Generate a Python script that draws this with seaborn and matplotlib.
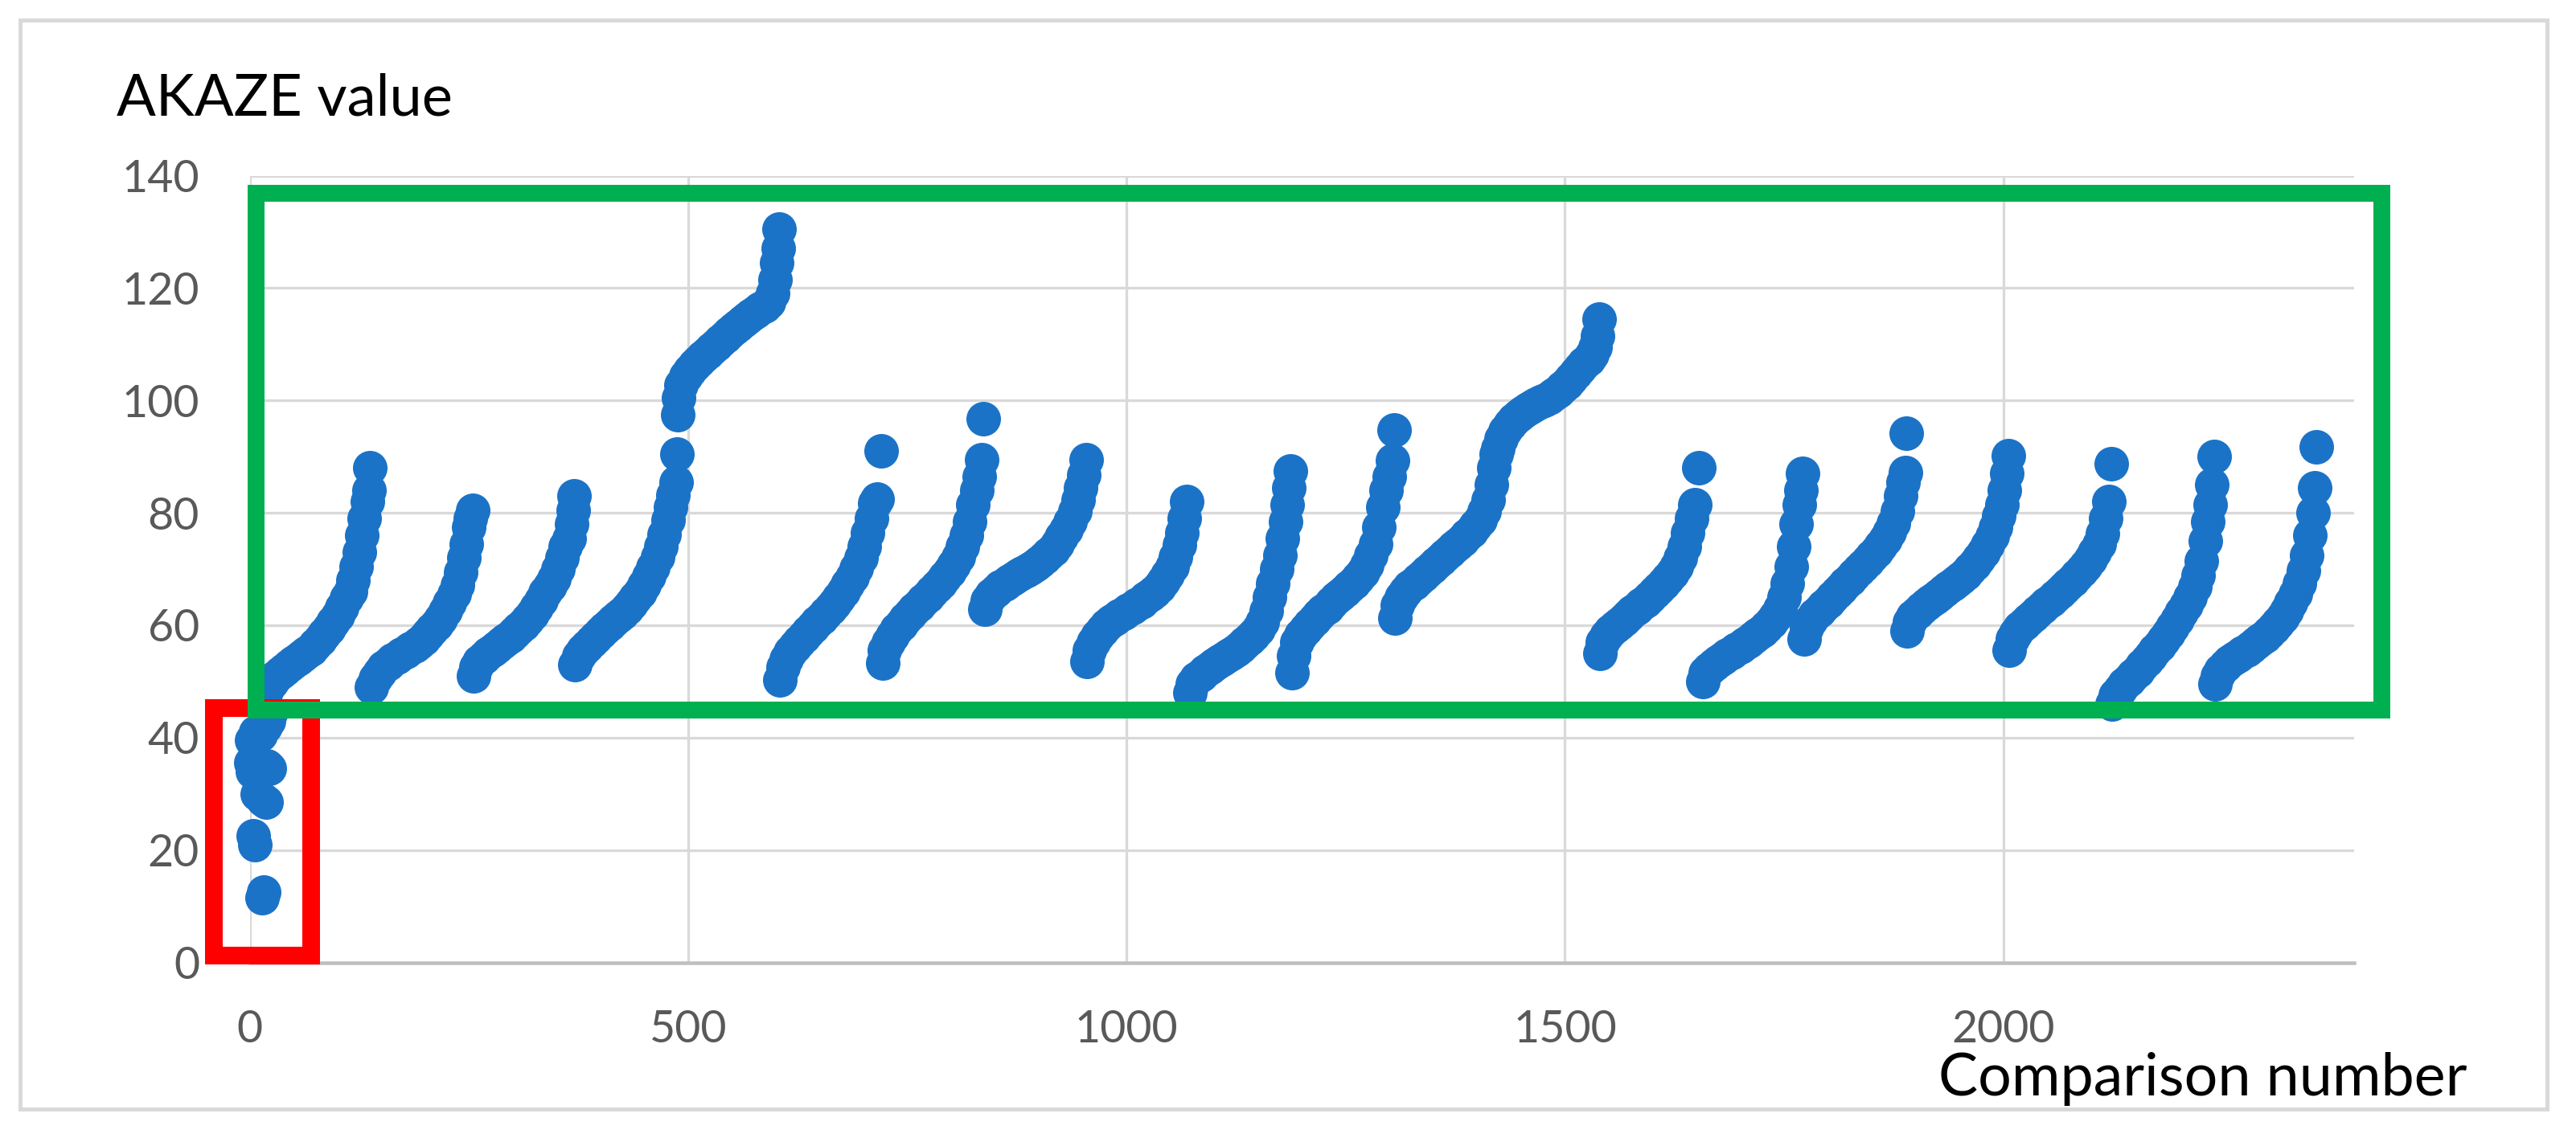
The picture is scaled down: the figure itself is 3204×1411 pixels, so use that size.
import numpy as np
import pandas as pd
import matplotlib
matplotlib.use("Agg")
import matplotlib.pyplot as plt
import matplotlib.patches as mpatches
import seaborn as sns

# ---------------- data (comparison number, AKAZE value) ----------------
low_x = [16, 14, 4, 6, 9, 15, 19, 1, 3, 20, 22, 2, 7, 12, 18, 21, 24]
low_y = [12.5, 11.5, 22.5, 21, 30, 29, 28.5, 35.5, 34, 35, 34.5, 39.5, 41, 40.5, 42, 43, 44.5]

seg01_x = [20, 25, 30, 35, 40, 45, 50, 55, 60, 65, 70, 75, 80, 85, 90, 95, 100, 105, 110, 115, 118, 121, 125, 128, 131, 134, 136, 137]
seg01_y = [48.5, 49.8, 50.8, 51.6, 52.2, 52.8, 53.4, 54, 54.6, 55.1, 55.7, 56.5, 57.4, 58.4, 59.4, 60.5, 61.7, 63.2, 64.8, 66, 68, 70.5, 73, 76, 79, 82, 84, 88]
seg02_x = [139, 143, 148, 153, 158, 163, 168, 173, 178, 183, 188, 193, 198, 203, 208, 213, 218, 223, 228, 233, 237, 241, 244, 247, 250, 252, 254]
seg02_y = [49, 50.5, 51.6, 52.5, 53.2, 53.8, 54.3, 54.8, 55.3, 55.8, 56.3, 56.9, 57.6, 58.4, 59.3, 60.2, 61.2, 62.5, 64, 65.6, 67.2, 69.5, 72, 74.5, 77.5, 79, 80.5]
seg03_x = [255, 258, 262, 267, 272, 277, 282, 287, 292, 297, 302, 307, 312, 317, 322, 327, 332, 337, 342, 347, 352, 356, 360, 364, 367, 369, 370]
seg03_y = [51, 52.5, 53.5, 54.3, 55, 55.6, 56.2, 56.8, 57.4, 58, 58.7, 59.4, 60.2, 61, 62, 63.2, 64.5, 65.8, 67, 68.3, 70, 72, 74, 75.5, 78, 80.5, 83]
seg04_x = [371, 375, 380, 385, 390, 395, 400, 405, 410, 415, 420, 425, 430, 435, 440, 445, 450, 455, 460, 465, 469, 473, 477, 480, 483, 486, 487]
seg04_y = [53, 54.5, 55.5, 56.3, 57.1, 57.9, 58.7, 59.4, 60.1, 60.8, 61.5, 62.2, 63, 63.8, 64.8, 65.9, 67.2, 68.7, 70.3, 72.1, 74, 76.2, 78.8, 81, 83.2, 85.5, 90.5]
seg05_x = [488, 489, 492, 497, 502, 507, 512, 517, 522, 527, 532, 537, 542, 547, 552, 557, 562, 567, 572, 577, 582, 587, 592, 596, 599, 601, 603, 604]
seg05_y = [97.5, 100.5, 102.8, 104.3, 105.4, 106.3, 107.1, 107.8, 108.5, 109.2, 109.9, 110.6, 111.3, 112, 112.7, 113.4, 114, 114.6, 115.2, 115.8, 116.3, 116.8, 117.5, 119, 121.5, 124.5, 127, 130.5]
seg06_x = [605, 608, 612, 617, 622, 627, 632, 637, 642, 647, 652, 657, 662, 667, 672, 677, 682, 687, 692, 697, 701, 705, 709, 713, 716, 720]
seg06_y = [50.3, 52.5, 54, 55.3, 56.3, 57.2, 58, 58.8, 59.7, 60.5, 61.3, 62.1, 63, 63.8, 64.8, 66, 67.3, 68.6, 70.2, 72, 74, 76.5, 79, 81.7, 82.5, 91]
seg07_x = [722, 724, 728, 733, 738, 743, 748, 753, 758, 763, 768, 773, 778, 783, 788, 793, 798, 803, 808, 813, 817, 821, 825, 829, 832, 835, 837]
seg07_y = [53.3, 55.5, 57, 58.2, 59.3, 60.2, 61.1, 62, 62.8, 63.6, 64.4, 65.2, 66, 66.8, 67.6, 68.6, 69.6, 70.7, 72.2, 74, 76, 78.5, 81.5, 84, 86.5, 89.5, 96.7]
seg08_x = [838, 841, 846, 851, 856, 861, 866, 871, 876, 881, 886, 891, 896, 901, 906, 911, 916, 921, 926, 931, 936, 941, 945, 948, 951, 954]
seg08_y = [62.8, 64.5, 65.5, 66.2, 66.8, 67.3, 67.8, 68.3, 68.8, 69.3, 69.7, 70.2, 70.7, 71.3, 72, 72.7, 73.5, 74.5, 75.7, 77, 78.5, 80.3, 82.3, 84.5, 86.8, 89.5]
seg09_x = [955, 958, 962, 967, 972, 977, 982, 987, 992, 997, 1002, 1007, 1012, 1017, 1022, 1027, 1032, 1037, 1042, 1047, 1052, 1056, 1060, 1063, 1066, 1069]
seg09_y = [53.5, 55.5, 57, 58.2, 59.2, 60, 60.7, 61.2, 61.7, 62.2, 62.7, 63.2, 63.7, 64.2, 64.8, 65.4, 66, 66.8, 67.8, 69, 70.5, 72.2, 74.3, 76.5, 79, 82]
seg10_x = [1072, 1075, 1080, 1085, 1090, 1095, 1100, 1105, 1110, 1115, 1120, 1125, 1130, 1135, 1140, 1145, 1150, 1155, 1159, 1163, 1167, 1171, 1175, 1178, 1181, 1183, 1185, 1187]
seg10_y = [48, 49.5, 50.5, 51.2, 51.8, 52.4, 53, 53.5, 54, 54.5, 55, 55.6, 56.2, 56.8, 57.5, 58.3, 59.3, 60.5, 62.5, 65, 67.5, 70, 72.5, 75.5, 78.5, 81.5, 84.5, 87.5]
seg11_x = [1189, 1191, 1194, 1199, 1204, 1209, 1214, 1219, 1224, 1229, 1234, 1239, 1244, 1249, 1254, 1259, 1264, 1269, 1274, 1279, 1284, 1288, 1292, 1296, 1300, 1303, 1305]
seg11_y = [51.5, 54.5, 57, 58.3, 59.3, 60.2, 61, 61.8, 62.5, 63.2, 64, 64.8, 65.5, 66.2, 66.9, 67.6, 68.4, 69.4, 70.7, 72.4, 74.5, 77.5, 81, 84, 86.5, 89.3, 94.8]
seg12_x = [1306, 1309, 1313, 1318, 1323, 1328, 1333, 1338, 1343, 1348, 1353, 1358, 1363, 1368, 1373, 1378, 1383, 1388, 1393, 1398, 1403, 1408, 1412, 1416, 1419, 1422]
seg12_y = [61.3, 63.5, 65, 66, 66.8, 67.5, 68.2, 68.9, 69.6, 70.3, 71, 71.7, 72.4, 73.1, 73.8, 74.5, 75.2, 76, 76.8, 77.7, 78.8, 80.3, 82.3, 85, 88, 90.5]
seg13_x = [1423, 1427, 1432, 1437, 1442, 1447, 1452, 1457, 1462, 1467, 1472, 1477, 1482, 1487, 1492, 1497, 1502, 1507, 1512, 1517, 1522, 1527, 1531, 1534, 1537, 1539]
seg13_y = [91.5, 93.2, 94.6, 95.7, 96.6, 97.3, 97.9, 98.4, 98.9, 99.3, 99.7, 100.1, 100.5, 101, 101.6, 102.3, 103, 103.9, 104.9, 105.8, 106.6, 107.3, 108.2, 109.5, 111.5, 114.5]
seg14_x = [1540, 1543, 1547, 1552, 1557, 1562, 1567, 1572, 1577, 1582, 1587, 1592, 1597, 1602, 1607, 1612, 1617, 1622, 1627, 1632, 1636, 1640, 1644, 1648, 1653]
seg14_y = [55, 57, 58.2, 59, 59.7, 60.3, 61, 61.7, 62.4, 63, 63.7, 64.3, 65, 65.8, 66.6, 67.4, 68.3, 69.3, 70.5, 72, 74, 76.5, 79, 81.5, 88]
seg15_x = [1657, 1660, 1665, 1670, 1675, 1680, 1685, 1690, 1695, 1700, 1705, 1710, 1715, 1720, 1725, 1730, 1735, 1740, 1745, 1750, 1754, 1758, 1761, 1764, 1767, 1769, 1771]
seg15_y = [50, 51.5, 52.3, 53, 53.6, 54.2, 54.7, 55.2, 55.7, 56.2, 56.7, 57.2, 57.8, 58.4, 59, 59.7, 60.5, 61.5, 63, 65, 67.5, 70.5, 74, 78, 81.5, 84, 87]
seg16_x = [1773, 1776, 1780, 1785, 1790, 1795, 1800, 1805, 1810, 1815, 1820, 1825, 1830, 1835, 1840, 1845, 1850, 1855, 1860, 1865, 1870, 1875, 1879, 1883, 1886, 1888, 1889]
seg16_y = [57.5, 59.5, 60.8, 61.8, 62.6, 63.4, 64.2, 65, 65.8, 66.6, 67.4, 68.2, 69, 69.8, 70.6, 71.4, 72.3, 73.2, 74.2, 75.3, 76.6, 78.2, 80.3, 83, 85.5, 87.2, 94.2]
seg17_x = [1890, 1893, 1897, 1902, 1907, 1912, 1917, 1922, 1927, 1932, 1937, 1942, 1947, 1952, 1957, 1962, 1967, 1972, 1977, 1982, 1987, 1991, 1995, 1998, 2001, 2004, 2006]
seg17_y = [59, 60.5, 61.5, 62.3, 63, 63.7, 64.3, 64.9, 65.5, 66.1, 66.7, 67.3, 67.9, 68.5, 69.2, 70, 70.9, 71.9, 73, 74.3, 75.8, 77.5, 79.5, 81.5, 84, 87, 90.2]
seg18_x = [2007, 2010, 2014, 2019, 2024, 2029, 2034, 2039, 2044, 2049, 2054, 2059, 2064, 2069, 2074, 2079, 2084, 2089, 2094, 2099, 2104, 2109, 2113, 2117, 2120, 2123]
seg18_y = [55.5, 57.5, 58.6, 59.5, 60.3, 61, 61.7, 62.4, 63.1, 63.8, 64.5, 65.2, 65.9, 66.6, 67.3, 68, 68.8, 69.7, 70.6, 71.7, 73, 74.5, 76.3, 79, 82, 88.7]
seg19_x = [2124, 2128, 2133, 2138, 2143, 2148, 2153, 2158, 2163, 2168, 2173, 2178, 2183, 2188, 2193, 2198, 2203, 2208, 2213, 2218, 2222, 2226, 2230, 2233, 2236, 2238, 2240]
seg19_y = [46, 47.6, 48.6, 49.5, 50.3, 51.1, 51.9, 52.8, 53.7, 54.6, 55.5, 56.4, 57.4, 58.5, 59.7, 61, 62.3, 63.6, 65, 66.8, 68.8, 71.5, 75, 78.5, 81.5, 85, 90]
seg20_x = [2241, 2244, 2248, 2253, 2258, 2263, 2268, 2273, 2278, 2283, 2288, 2293, 2298, 2303, 2308, 2313, 2318, 2323, 2328, 2333, 2338, 2342, 2346, 2350, 2353, 2355, 2357]
seg20_y = [49.5, 51, 52, 52.8, 53.5, 54.1, 54.6, 55.1, 55.6, 56.2, 56.8, 57.4, 58, 58.7, 59.5, 60.4, 61.4, 62.6, 64, 65.6, 67.5, 69.7, 72.5, 76, 80, 84.5, 91.7]

x_ticks = [0, 500, 1000, 1500, 2000]
y_ticks = [0, 20, 40, 60, 80, 100, 120, 140]
x_title = "Comparison number"
y_title = "AKAZE value"

# ---------------- assemble ----------------
groups = [(low_x, low_y), (seg01_x, seg01_y), (seg02_x, seg02_y), (seg03_x, seg03_y),
          (seg04_x, seg04_y), (seg05_x, seg05_y), (seg06_x, seg06_y), (seg07_x, seg07_y),
          (seg08_x, seg08_y), (seg09_x, seg09_y), (seg10_x, seg10_y), (seg11_x, seg11_y),
          (seg12_x, seg12_y), (seg13_x, seg13_y), (seg14_x, seg14_y), (seg15_x, seg15_y),
          (seg16_x, seg16_y), (seg17_x, seg17_y), (seg18_x, seg18_y), (seg19_x, seg19_y),
          (seg20_x, seg20_y)]
xs, ys = [], []
for gx, gy in groups:
    assert len(gx) == len(gy)
    xs.extend(gx)
    ys.extend(gy)
df = pd.DataFrame({"comparison": xs, "akaze": ys})

# ---------------- style ----------------
sns.set_theme(style="white")
plt.rcParams["font.family"] = ["Lato", "DejaVu Sans"]

W, H = 3204, 1411
DPI = 100
fig = plt.figure(figsize=(W / DPI, H / DPI), dpi=DPI)
fig.patch.set_facecolor("white")

px = 72.0 / DPI  # points per pixel

ax_left, ax_right = 310.6, 2928.0
ax_bottom, ax_top = 1197.5, 218.6
ax = fig.add_axes([ax_left / W, 1 - ax_bottom / H,
                   (ax_right - ax_left) / W, (ax_bottom - ax_top) / H])
ax.set_facecolor("white")

blue = "#1b73c7"
marker_d = 43  # pixels
sns.scatterplot(data=df, x="comparison", y="akaze", ax=ax, color=blue,
                s=(marker_d * px) ** 2, linewidth=0, legend=False, zorder=3)
for coll in ax.collections:
    coll.set_clip_on(False)

ax.set_xlim(0, 2400)
ax.set_ylim(0, 140)
ax.set_xticks(x_ticks)
ax.set_yticks(y_ticks)
ax.set_xlabel("")
ax.set_ylabel("")

grid_c = "#d9d9d9"
ax.grid(True, color=grid_c, linewidth=3.3 * px, zorder=0)
ax.set_axisbelow(True)
for s in ["top", "right", "left"]:
    ax.spines[s].set_visible(False)
ax.spines["bottom"].set_color("#bfbfbf")
ax.spines["bottom"].set_linewidth(4.5 * px)
ax.spines["bottom"].set_zorder(1)

ax.tick_params(axis="both", length=0, labelsize=40, labelcolor="#595959")
ax.tick_params(axis="x", pad=42)
ax.tick_params(axis="y", pad=45)

# highlight rectangles (drawn over the points)
red = mpatches.Rectangle((-41.2, 1.2), 70.5 + 41.2, 45.3 - 1.2, fill=False,
                         edgecolor="#ff0000", linewidth=22 * px, zorder=5,
                         clip_on=False, joinstyle="miter")
ax.add_patch(red)
green = mpatches.Rectangle((7.2, 45.0), 2431 - 7.2, 137.0 - 45.0, fill=False,
                           edgecolor="#00b050", linewidth=21 * px, zorder=6,
                           clip_on=False, joinstyle="miter")
ax.add_patch(green)

# axis titles
fig.text(145 / W, 1 - 143 / H, y_title, fontsize=52, color="black",
         ha="left", va="baseline")
fig.text(2411 / W, 1 - 1363 / H, x_title, fontsize=53, color="black",
         ha="left", va="baseline")

# outer chart border
border = mpatches.Rectangle((25 / W, 1 - 1380 / H), (3168 - 25) / W, (1380 - 25) / H,
                            transform=fig.transFigure, fill=False,
                            edgecolor="#d9d9d9", linewidth=5 * px, zorder=0)
fig.patches.append(border)

fig.savefig("out.png", dpi=DPI, facecolor="white")
